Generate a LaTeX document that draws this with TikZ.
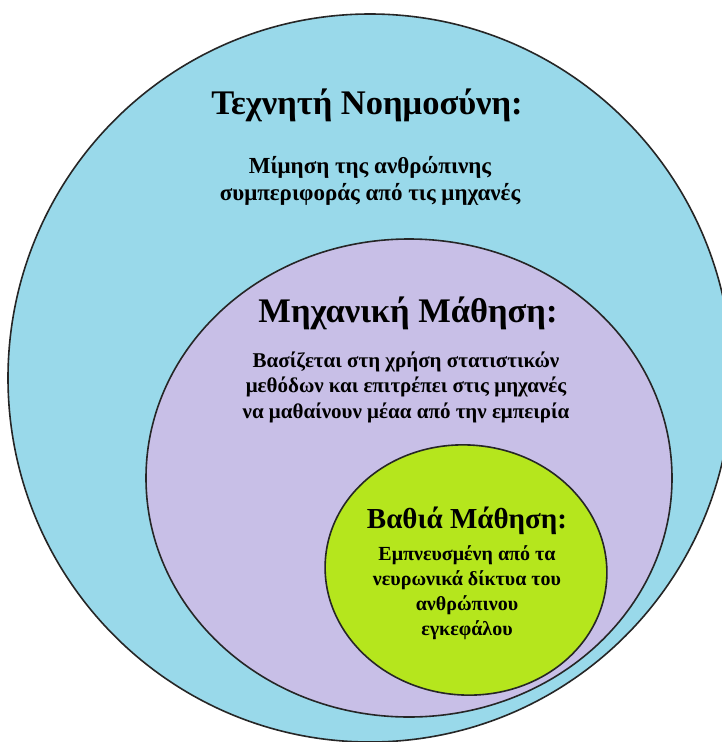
\documentclass[tikz,border=0pt]{standalone}
\usepackage{fontspec}
\setmainfont{Liberation Serif}
\definecolor{aiblue}{RGB}{153,217,234}
\definecolor{mlpurple}{RGB}{200,191,231}
\definecolor{dlgreen}{RGB}{181,230,29}
\begin{document}
\begin{tikzpicture}[x=1pt,y=-1pt,
    set/.style={draw=black!85,line width=1.6pt},
    title node/.style={inner sep=0pt,font=\bfseries\fontsize{34.5}{40}\selectfont},
    small title/.style={inner sep=0pt,font=\bfseries\fontsize{29}{34}\selectfont},
    text node/.style={inner sep=0pt,align=center,font=\bfseries\fontsize{21}{25.5}\selectfont}]
    \useasboundingbox (0,0) rectangle (721,742);
    \fill[white] (0,0) rectangle (721,742);

    \filldraw[set,fill=aiblue] (370,378) ellipse [x radius=362,y radius=364];
    \filldraw[set,fill=mlpurple] (409,478) ellipse [x radius=263,y radius=239];
    \filldraw[set,fill=dlgreen,rotate around={-5:(466,570)}] (466,570) ellipse [x radius=141,y radius=125];

    \node[title node] at (367,105) (ai) {Τεχνητή Νοημοσύνη:};
    \node[text node,font=\bfseries\fontsize{23}{27}\selectfont] at (370,181) (aitext)
        {Μίμηση της ανθρώπινης\\συμπεριφοράς από τις μηχανές};

    \node[title node] at (408,313) (ml) {Μηχανική Μάθηση:};
    \node[text node] at (406,387) (mltext)
        {Βασίζεται στη χρήση στατιστικών\\μεθόδων και επιτρέπει στις μηχανές\\να μαθαίνουν μέαα από την εμπειρία};

    \node[small title] at (467,521) (dl) {Βαθιά Μάθηση:};
    \node[text node,font=\bfseries\fontsize{20}{25}\selectfont] at (467,593) (dltext)
        {Εμπνευσμένη από τα\\νευρωνικά δίκτυα του\\ανθρώπινου\\εγκεφάλου};
\end{tikzpicture}
\end{document}
